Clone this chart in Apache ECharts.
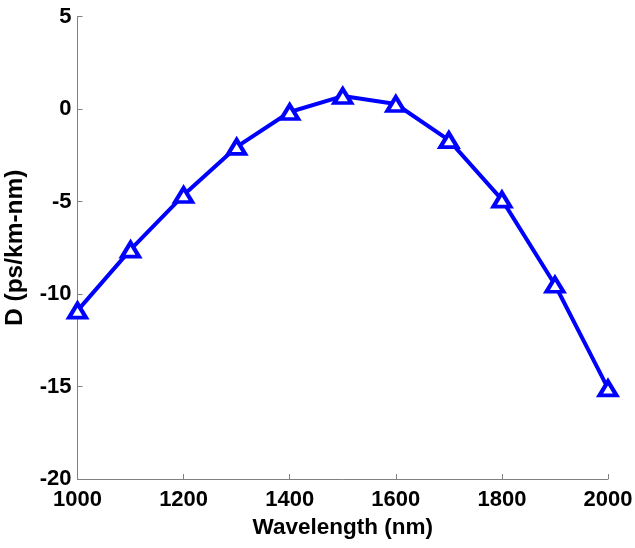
<!DOCTYPE html>
<html><head><meta charset="utf-8">
<script src="https://cdn.jsdelivr.net/npm/echarts@6/dist/echarts.min.js"></script>
<style>html,body{margin:0;padding:0;background:#fff}#c{width:635px;height:548px}</style>
</head><body><div id="c"></div>
<script>
const wavelengths = [1000,1100,1200,1300,1400,1500,1600,1700,1800,1900,2000];
const dispersion = [-10.9,-7.6,-4.65,-2.05,-0.16,0.7,0.27,-1.68,-4.9,-9.5,-15.1];
const xName = 'Wavelength (nm)';
const yName = 'D (ps/km-nm)';
const chart = echarts.init(document.getElementById('c'));
const font = {fontFamily:'Liberation Sans, Arial, sans-serif', fontWeight:'bold', fontSize:22, color:'#000'};
chart.setOption({
  animation:false,
  grid:{left:77.5,right:27,top:16.5,bottom:69,containLabel:false,outerBoundsMode:'none'},
  xAxis:{type:'value',min:1000,max:2000,interval:200,
    name:xName,nameLocation:'middle',nameGap:37,nameTextStyle:Object.assign({},font,{fontSize:22.5}),
    axisLine:{onZero:false,lineStyle:{color:'#808080',width:1}},
    axisTick:{inside:true,length:5,lineStyle:{color:'#808080'}},
    axisLabel:Object.assign({margin:10,formatter:v=>String(v)},font),
    splitLine:{show:false}},
  yAxis:{type:'value',min:-20,max:5,interval:5,
    name:yName,nameLocation:'middle',nameGap:50,nameTextStyle:Object.assign({},font,{fontSize:24.5}),
    axisLine:{show:true,lineStyle:{color:'#808080',width:1}},
    axisTick:{show:true,inside:true,length:5,lineStyle:{color:'#808080'}},
    axisLabel:Object.assign({margin:6},font),
    splitLine:{show:false}},
  series:[{type:'line',data:wavelengths.map((w,i)=>[w,dispersion[i]]),
    lineStyle:{color:'#0000ff',width:4},
    symbol:'triangle',symbolSize:[17,14],showAllSymbol:true,
    itemStyle:{color:'#ffffff',borderColor:'#0000ff',borderWidth:4},
    z:3}]
});
</script></body></html>
